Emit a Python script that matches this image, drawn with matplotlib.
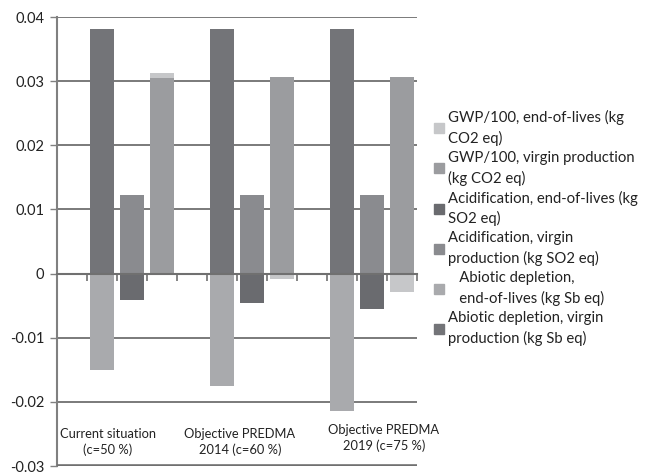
import matplotlib
matplotlib.use("Agg")
import matplotlib.pyplot as plt
import numpy as np
from matplotlib.patches import Patch

plt.rcParams['font.family'] = ['Lato', 'DejaVu Sans']

# scenarios (one group of three bars each)
scenarios = ["Current situation\n(c=50 %)",
             "Objective PREDMA\n2014 (c=60 %)",
             "Objective PREDMA\n2019 (c=75 %)"]

# impact values per scenario
abiotic_virgin = [0.0381, 0.0381, 0.0381]
abiotic_eol = [-0.0150, -0.0175, -0.0214]
acid_virgin = [0.0122, 0.0122, 0.0122]
acid_eol = [-0.0041, -0.0046, -0.0055]
gwp_virgin = [0.0305, 0.0306, 0.0306]
gwp_eol = [0.0008, -0.0008, -0.0028]

yticks = [-0.03, -0.02, -0.01, 0, 0.01, 0.02, 0.03, 0.04]
ytick_labels = ["-0.03", "-0.02", "-0.01", "0", "0.01", "0.02", "0.03", "0.04"]

# series: (virgin, end-of-lives, colours, slot within group)
series = [
    ("Abiotic depletion", abiotic_virgin, abiotic_eol, "#737478", "#a9aaad", 0),
    ("Acidification", acid_virgin, acid_eol, "#8a8b8f", "#6a6b6f", 1),
    ("GWP/100", gwp_virgin, gwp_eol, "#9b9c9f", "#c6c7c9", 2),
]

fig = plt.figure(figsize=(6.47, 4.73), dpi=100)
ax = fig.add_axes([57 / 647, 1 - 466 / 473, 360 / 647, 449 / 473])

width = 0.83
group_x = np.arange(len(scenarios)) * 4 + 1
for name, virgin, eol, c_v, c_e, slot in series:
    x = group_x + slot
    virgin = np.array(virgin)
    eol = np.array(eol)
    ax.bar(x, virgin, width, color=c_v, zorder=2)
    bottom = np.where(eol > 0, virgin, 0)
    ax.bar(x, eol, width, bottom=bottom, color=c_e, zorder=2)

ax.set_xlim(-0.5, 11.5)
ax.set_ylim(-0.03, 0.04)
ax.set_yticks(yticks)
ax.set_yticklabels(ytick_labels, fontsize=10.5, color="#222222")
ax.yaxis.grid(True, color="#707070", lw=1.3)
ax.set_axisbelow(True)

ax.spines['top'].set_visible(False)
ax.spines['right'].set_visible(False)
ax.spines['left'].set_color("#808080")
ax.spines['left'].set_linewidth(1.5)
ax.spines['bottom'].set_position(('data', 0))
ax.spines['bottom'].set_color("#707070")
ax.spines['bottom'].set_linewidth(1.5)
ax.spines['bottom'].set_zorder(3)
ax.tick_params(axis='y', length=5, color="#808080", width=1, pad=4)
ax.set_xticks(np.arange(-0.5, 12, 1))
ax.tick_params(axis='x', length=5, color="#707070", width=1.2, labelbottom=False)

# bottom boundary line
ax.axhline(-0.03, color="#707070", lw=2.6, clip_on=True, zorder=3)

label_x = [1.2, 5.6, 10.4]
label_y = [-0.0263, -0.0263, -0.0256]
for lx, ly, s in zip(label_x, label_y, scenarios):
    ax.text(lx, ly, s, ha='center', va='center', fontsize=9.3,
            color="#222222", linespacing=1.3)

handles = [
    Patch(color="#c6c7c9", label="GWP/100, end-of-lives (kg\nCO2 eq)"),
    Patch(color="#9b9c9f", label="GWP/100, virgin production\n(kg CO2 eq)"),
    Patch(color="#6a6b6f", label="Acidification, end-of-lives (kg\nSO2 eq)"),
    Patch(color="#8a8b8f", label="Acidification, virgin\nproduction (kg SO2 eq)"),
    Patch(color="#a9aaad", label="   Abiotic depletion,\n   end-of-lives (kg Sb eq)"),
    Patch(color="#737478", label="Abiotic depletion, virgin\nproduction (kg Sb eq)"),
]
leg = fig.legend(handles=handles, loc='upper left',
                 bbox_to_anchor=(428 / 647, 1 - 104 / 473),
                 frameon=False, fontsize=10.7, handlelength=0.66,
                 handleheight=0.66, handletextpad=0.3, labelspacing=0.33,
                 borderaxespad=0)
for t in leg.get_texts():
    t.set_color("#222222")
    t.set_linespacing(1.48)

fig.savefig("out.png", dpi=100)
